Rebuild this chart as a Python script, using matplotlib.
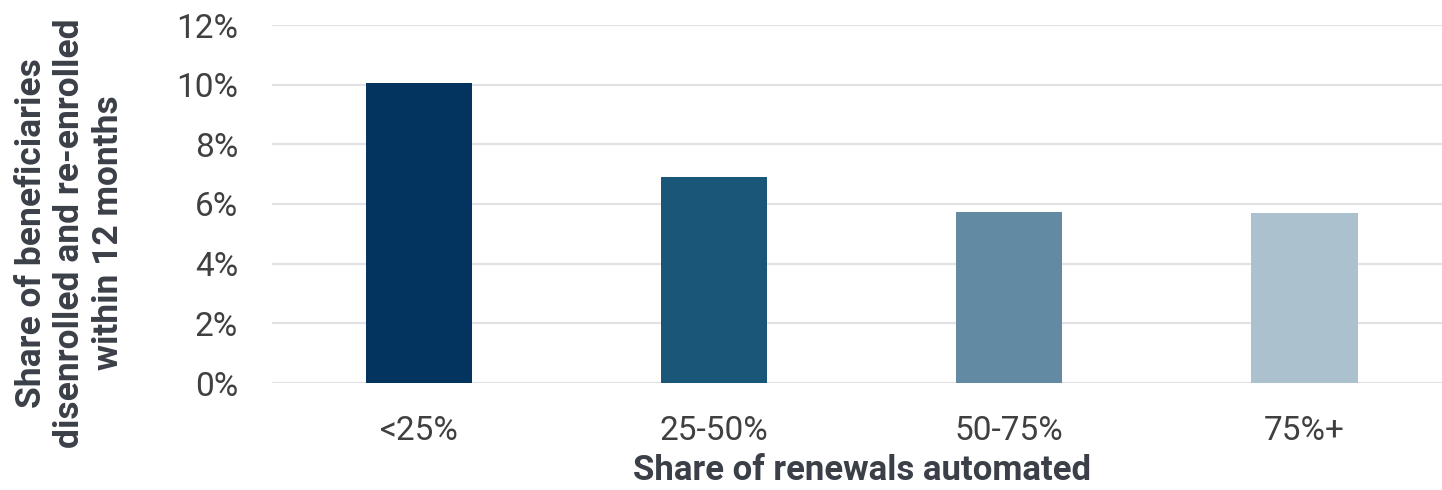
import matplotlib
matplotlib.use("Agg")
import matplotlib.pyplot as plt
from matplotlib.ticker import PercentFormatter

categories = ["<25%", "25-50%", "50-75%", "75%+"]
values = [0.1005, 0.0692, 0.0572, 0.0570]
bar_colors = ["#02345f", "#1a5677", "#628aa3", "#abc1ce"]
yticks = [0, 0.02, 0.04, 0.06, 0.08, 0.10, 0.12]

plt.rcParams["font.family"] = ["Roboto", "DejaVu Sans"]

W, H = 1442, 490
fig = plt.figure(figsize=(W / 100, H / 100), dpi=100)
# axes spans past the right edge, like the cropped original
left, right, bottom, top = 271.5, 1452, 383, 25
ax = fig.add_axes([left / W, (H - bottom) / H, (right - left) / W, (bottom - top) / H])

x = range(len(categories))
ax.bar(x, values, width=0.36, color=bar_colors, zorder=3)

ax.set_xlim(-0.5, len(categories) - 0.5)
ax.set_ylim(0, 0.12)
ax.set_yticks(yticks)
ax.yaxis.set_major_formatter(PercentFormatter(1.0, decimals=0))
ax.set_xticks(list(x))
ax.set_xticklabels(categories)

ax.grid(axis="y", color="#e2e2e6", linewidth=1.6, zorder=0)
for s in ax.spines.values():
    s.set_visible(False)
ax.tick_params(axis="both", length=0, labelsize=24, colors="#404040")
ax.tick_params(axis="y", pad=24)
ax.tick_params(axis="x", pad=23)

ax.set_xlabel("Share of renewals automated", fontsize=25, fontweight="bold",
              color="#3b3f48", labelpad=5)

fig.text(70 / W, 1 - 233 / H,
         "Share of beneficiaries\ndisenrolled and re-enrolled\nwithin 12 months",
         rotation=90, ha="center", va="center", ma="center",
         fontsize=25.5, fontweight="bold", color="#3b3f48", linespacing=1.22)

fig.savefig("out.png", dpi=100)
